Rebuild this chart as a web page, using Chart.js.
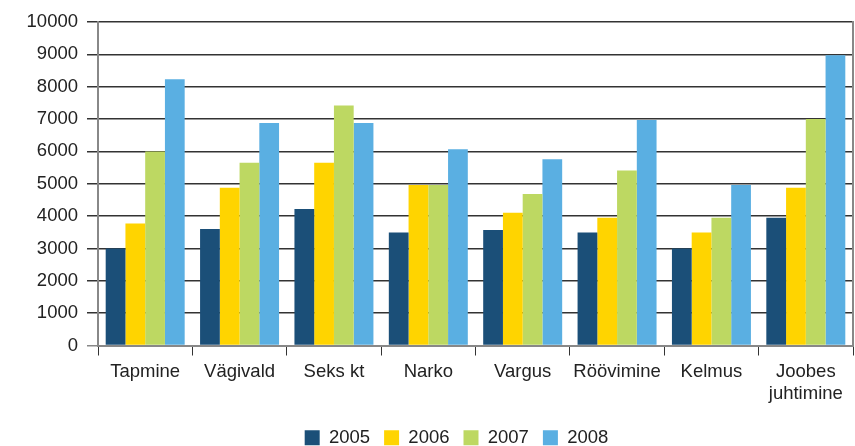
<!DOCTYPE html>
<html>
<head>
<meta charset="utf-8">
<script src="https://cdn.jsdelivr.net/npm/chart.js@4"></script>
<style>
  html, body { margin: 0; padding: 0; background: #fff; }
  #wrap { width: 855px; height: 446px; }
</style>
</head>
<body>
<div id="wrap"><canvas id="barchart" width="855" height="446"></canvas></div>
<script>
// categories and yearly values
const categories = ['Tapmine', 'Vägivald', 'Seks kt', 'Narko', 'Vargus', 'Röövimine', 'Kelmus', ['Joobes', 'juhtimine']];
const years = ['2005', '2006', '2007', '2008'];
const values2005 = [3000, 3600, 4220, 3490, 3570, 3490, 3000, 3950];
const values2006 = [3770, 4880, 5650, 4960, 4100, 3950, 3490, 4880];
const values2007 = [6000, 5650, 7420, 4960, 4680, 5410, 3950, 7000];
const values2008 = [8230, 6880, 6880, 6070, 5760, 6970, 4960, 8970];
const yTicks = [0, 1000, 2000, 3000, 4000, 5000, 6000, 7000, 8000, 9000, 10000];

const colors = ['#1b4f78', '#ffd400', '#bdd862', '#5aafe2'];
const series = [values2005, values2006, values2007, values2008];

const font = { family: "'Liberation Sans', Arial, sans-serif", size: 18.5 };

// nudge the legend so it sits where the original has it
const legendShift = {
  id: 'legendShift',
  afterLayout(chart) {
    const lg = chart.legend;
    if (lg) {
      lg.left += 60;
      lg.top += 11;
      lg.bottom += 11;
    }
  },
};

new Chart(document.getElementById('barchart').getContext('2d'), {
  type: 'bar',
  data: {
    labels: categories,
    datasets: years.map((y, i) => ({
      label: y,
      data: series[i],
      backgroundColor: colors[i],
      borderWidth: 0,
      categoryPercentage: 0.837,
      barPercentage: 1,
    })),
  },
  options: {
    responsive: false,
    animation: false,
    layout: { padding: { top: 22, right: 2, bottom: 0, left: 0 } },
    plugins: {
      legend: {
        position: 'bottom',
        labels: {
          boxWidth: 15,
          boxHeight: 15,
          padding: 14,
          color: '#222',
          font,
        },
      },
      tooltip: { enabled: false },
    },
    scales: {
      x: {
        offset: true,
        grid: {
          offset: true,
          drawOnChartArea: false,
          drawTicks: true,
          tickLength: 10,
          color: '#333',
          lineWidth: 1,
        },
        border: { color: '#888', width: 2 },
        ticks: { color: '#222', font, padding: 5, maxRotation: 0, autoSkip: false },
        afterFit(scale) { scale.height = 58; },
      },
      y: {
        min: 0,
        max: 10000,
        afterBuildTicks(scale) { scale.ticks = yTicks.map(v => ({ value: v })); },
        grid: {
          color: ctx => (ctx.tick && ctx.tick.value === 0 ? '#888' : '#333'),
          lineWidth: 1.5,
          tickLength: 11,
        },
        border: { color: '#888', width: 2 },
        ticks: { color: '#222', font, padding: 9, callback: v => String(v) },
        afterFit(scale) { scale.width = 98; },
      },
      yRight: {
        position: 'right',
        display: true,
        grid: { display: false, drawTicks: false },
        border: { color: '#888', width: 2 },
        ticks: { display: false },
        afterFit(scale) { scale.width = 0; },
      },
    },
  },
  plugins: [legendShift],
});
</script>
</body>
</html>
